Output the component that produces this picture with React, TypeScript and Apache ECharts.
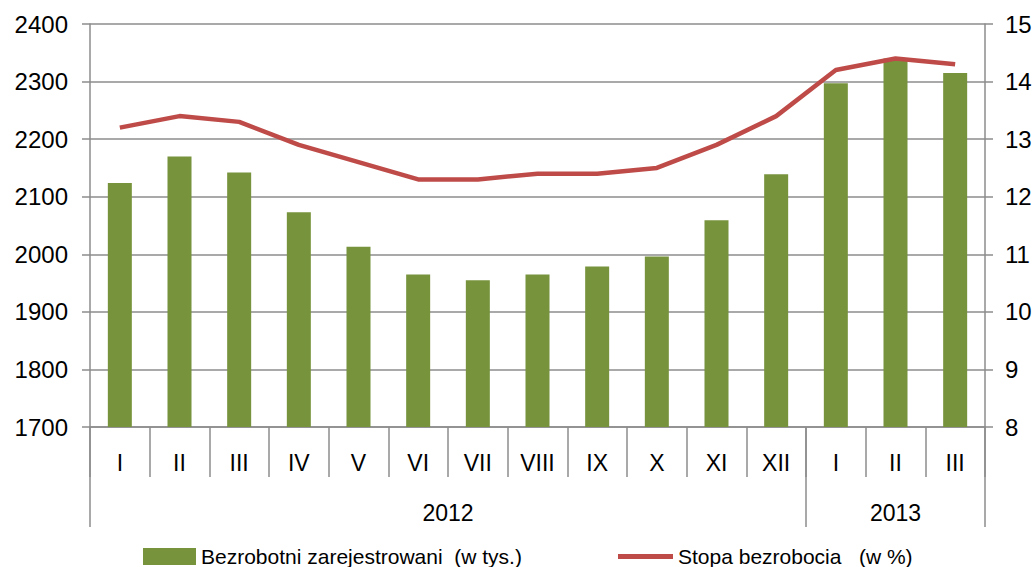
import React, { useEffect, useRef } from "react";
import * as echarts from "echarts";

const months = ["I", "II", "III", "IV", "V", "VI", "VII", "VIII", "IX", "X", "XI", "XII", "I", "II", "III"];
const years = ["2012", "2013"];
const yearBounds = [0, 12, 15];
const yearCenters = [6, 13.5];
const unemployed = [2124, 2170, 2142, 2073, 2013, 1965, 1955, 1965, 1979, 1996, 2059, 2139, 2297, 2340, 2315];
const rate = [13.2, 13.4, 13.3, 12.9, 12.6, 12.3, 12.3, 12.4, 12.4, 12.5, 12.9, 13.4, 14.2, 14.4, 14.3];
const barName = "Bezrobotni zarejestrowani  (w tys.)";
const lineName = "Stopa bezrobocia   (w %)";

const FONT = "'Liberation Sans Narrow', 'Liberation Sans', sans-serif";
const GRAY = "#8c8c8c";
const TXT = "#000";

export default function App() {
  const ref = useRef<HTMLDivElement>(null);
  useEffect(() => {
    if (!ref.current) return;
    document.body.style.margin = "0";
    const chart = echarts.init(ref.current, null, { renderer: "svg" });
    chart.setOption({
      animation: false,
      textStyle: { fontFamily: FONT },
      grid: { left: 90, right: 51, top: 24, height: 403 },
      legend: [
        {
          data: [{ name: barName, icon: "rect" }],
          left: 138,
          top: 541,
          itemWidth: 53,
          itemHeight: 17,
          textStyle: { fontFamily: FONT, fontSize: 21, color: TXT },
        },
        {
          data: [{ name: lineName, icon: "rect" }],
          left: 613,
          top: 541,
          itemWidth: 55,
          itemHeight: 5,
          textStyle: { fontFamily: FONT, fontSize: 21, color: TXT },
        },
      ],
      xAxis: [
        {
          type: "category",
          data: months,
          boundaryGap: true,
          axisLine: { show: true, lineStyle: { color: GRAY, width: 1.5 } },
          axisTick: { show: true, interval: 0, length: 50, lineStyle: { color: GRAY, width: 1.5 } },
          axisLabel: { interval: 0, fontSize: 23, color: TXT, margin: 24, fontFamily: FONT },
        },
        {
          type: "value",
          min: 0,
          max: 15,
          position: "bottom",
          axisLine: { show: false },
          splitLine: { show: false },
          axisTick: {
            show: true,
            length: 100,
            customValues: yearBounds,
            lineStyle: { color: GRAY, width: 1.5 },
          },
          axisLabel: {
            customValues: yearCenters,
            formatter: (v: number) => (v === yearCenters[0] ? years[0] : years[1]),
            fontSize: 23,
            color: TXT,
            margin: 74,
            fontFamily: FONT,
          },
        },
      ],
      yAxis: [
        {
          type: "value",
          min: 1700,
          max: 2400,
          interval: 100,
          axisLine: { show: true, lineStyle: { color: GRAY, width: 1.5 } },
          axisTick: { show: true, length: 8, lineStyle: { color: GRAY, width: 1.5 } },
          axisLabel: { fontSize: 24, color: TXT, margin: 22, fontFamily: FONT, formatter: (v: number) => String(v) },
          splitLine: { lineStyle: { color: GRAY, width: 1.5 } },
        },
        {
          type: "value",
          min: 8,
          max: 15,
          interval: 1,
          position: "right",
          axisLine: { show: true, lineStyle: { color: GRAY, width: 1.5 } },
          axisTick: { show: true, length: 8, lineStyle: { color: GRAY, width: 1.5 } },
          axisLabel: { fontSize: 24, color: TXT, margin: 20, fontFamily: FONT, formatter: (v: number) => String(v) },
          splitLine: { show: false },
        },
      ],
      series: [
        {
          name: barName,
          type: "bar",
          data: unemployed,
          barWidth: 24,
          itemStyle: { color: "#77933c" },
          xAxisIndex: 0,
          yAxisIndex: 0,
        },
        {
          name: lineName,
          type: "line",
          data: rate,
          yAxisIndex: 1,
          xAxisIndex: 0,
          symbol: "none",
          lineStyle: { color: "#be4b48", width: 4.5 },
          itemStyle: { color: "#be4b48" },
        },
      ],
    });
    return () => chart.dispose();
  }, []);
  return <div ref={ref} style={{ width: 1036, height: 567 }} />;
}
